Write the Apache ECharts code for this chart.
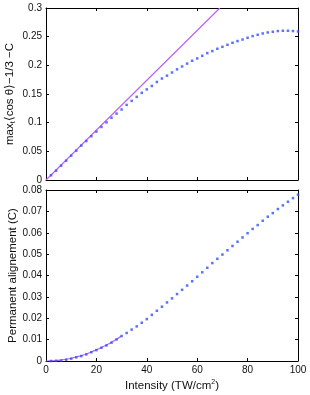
<!DOCTYPE html>
<html>
<head>
<meta charset="utf-8">
<script src="https://cdn.jsdelivr.net/npm/echarts@6/dist/echarts.min.js"></script>
<style>html,body{margin:0;padding:0;background:#fff}#c{width:310px;height:395px}</style>
</head>
<body>
<div id="c"></div>
<script>
// ---- data ----
var xs = [2,4,6,8,10,12,14,16,18,20,22,24,26,28,30,32,34,36,38,40,42,44,46,48,50,52,54,56,58,60,62,64,66,68,70,72,74,76,78,80,82,84,86,88,90,92,94,96,98,100];
var topDots = [0.0082,0.0163,0.025,0.0337,0.0425,0.0512,0.060,0.068,0.0763,0.0844,0.0925,0.1005,0.1085,0.1158,0.123,0.131,0.138,0.145,0.152,0.158,0.164,0.171,0.177,0.182,0.1875,0.193,0.198,0.203,0.208,0.212,0.2166,0.2213,0.2248,0.2289,0.2323,0.2358,0.2393,0.2423,0.245,0.248,0.251,0.2533,0.2556,0.2574,0.2586,0.2598,0.2603,0.2603,0.2598,0.259];
var bottomDots = [0.0000,0.0001,0.0002,0.0006,0.0011,0.0017,0.0023,0.0031,0.0041,0.0051,0.0062,0.0073,0.0086,0.0101,0.0117,0.0131,0.0147,0.0162,0.0179,0.0196,0.0216,0.0235,0.0254,0.0274,0.0293,0.0313,0.0333,0.0353,0.0373,0.0394,0.0415,0.0436,0.0458,0.0478,0.0498,0.0518,0.0538,0.0558,0.0578,0.0598,0.0618,0.0636,0.0656,0.0675,0.0692,0.0711,0.0728,0.0745,0.0762,0.0778];
var topLineX = [0, 69];
var topLineY = [0, 0.3];
var bottomFitX = [0,2,4,6,8,10,12,14,16,18,20,22,24,26,28,30];
var bottomFitY = [0,0.00005,0.0002,0.00047,0.00083,0.0013,0.0019,0.0025,0.0033,0.0042,0.0052,0.0063,0.0075,0.0088,0.0102,0.0117];
var xTicks = {min:0, max:100, interval:20};
var topY = {min:0, max:0.3, interval:0.05};
var botY = {min:0, max:0.08, interval:0.01};

function pairs(a,b){ return a.map(function(v,i){return [v,b[i]];}); }

var FONT = 'Liberation Sans, Arial, sans-serif';
var black = '#000';
function axBase(extra){
  var o = {
    type:'value',
    nameMoveOverlap:false,
    axisLine:{show:true, onZero:false, lineStyle:{color:black, width:1}},
    axisTick:{show:true, inside:true, length:3, lineStyle:{color:black}},
    splitLine:{show:false},
    axisLabel:{show:true, color:'#111', fontFamily:FONT, fontSize:10, margin:4},
    nameTextStyle:{color:'#111', fontFamily:FONT, fontSize:11}
  };
  for (var k in extra) o[k]=extra[k];
  return o;
}
var noLab = {show:false};

var chart = echarts.init(document.getElementById('c'), null, {renderer:'canvas'});
chart.setOption({
  animation:false,
  backgroundColor:'#fff',
  grid:[
    {left:46, right:12, top:8, height:172, containLabel:false, outerBoundsMode:'none'},
    {left:46, right:12, top:190, height:171, containLabel:false, outerBoundsMode:'none'}
  ],
  xAxis:[
    axBase({gridIndex:0, position:'bottom', min:xTicks.min, max:xTicks.max, interval:xTicks.interval, axisLabel:noLab}),
    axBase({gridIndex:0, position:'top', min:xTicks.min, max:xTicks.max, interval:xTicks.interval, axisLabel:noLab}),
    axBase({gridIndex:1, position:'bottom', min:xTicks.min, max:xTicks.max, interval:xTicks.interval,
      name:'Intensity (TW/cm{sup|2})', nameLocation:'middle', nameGap:18,
      nameTextStyle:{color:'#111', fontFamily:FONT, fontSize:11.5, rich:{sup:{fontSize:7, fontFamily:FONT, color:'#111', verticalAlign:'top', lineHeight:14}}}}),
    axBase({gridIndex:1, position:'top', min:xTicks.min, max:xTicks.max, interval:xTicks.interval, axisLabel:noLab})
  ],
  yAxis:[
    axBase({gridIndex:0, position:'left', min:topY.min, max:topY.max, interval:topY.interval,
      name:'max{sub|t}⟨cos θ⟩−1/3 −C', nameLocation:'middle', nameGap:29,
      nameTextStyle:{color:'#111', fontFamily:FONT, fontSize:11.5, rich:{sub:{fontSize:7, fontFamily:FONT, color:'#111', verticalAlign:'bottom', lineHeight:14}}}}),
    axBase({gridIndex:0, position:'right', min:topY.min, max:topY.max, interval:topY.interval, axisLabel:noLab}),
    axBase({gridIndex:1, position:'left', min:botY.min, max:botY.max, interval:botY.interval,
      name:'Permanent alignement (C)', nameLocation:'middle', nameGap:27,
      nameTextStyle:{color:'#111', fontFamily:FONT, fontSize:11.5}}),
    axBase({gridIndex:1, position:'right', min:botY.min, max:botY.max, interval:botY.interval, axisLabel:noLab})
  ],
  series:[
    {type:'line', xAxisIndex:0, yAxisIndex:0, data:pairs(topLineX, topLineY), showSymbol:false, symbol:'none',
      lineStyle:{color:'#c060f5', width:1.2}, clip:true, z:2},
    {type:'scatter', xAxisIndex:0, yAxisIndex:0, data:pairs(xs, topDots), symbol:'rect', symbolSize:2.5,
      itemStyle:{color:'#3050ff'}, z:3},
    {type:'line', xAxisIndex:2, yAxisIndex:2, data:pairs(bottomFitX, bottomFitY), showSymbol:false, symbol:'none',
      smooth:true, lineStyle:{color:'#c060f5', width:1.2}, z:2},
    {type:'scatter', xAxisIndex:2, yAxisIndex:2, data:pairs(xs, bottomDots), symbol:'rect', symbolSize:2.5,
      itemStyle:{color:'#3050ff'}, z:3}
  ]
});
</script>
</body>
</html>
